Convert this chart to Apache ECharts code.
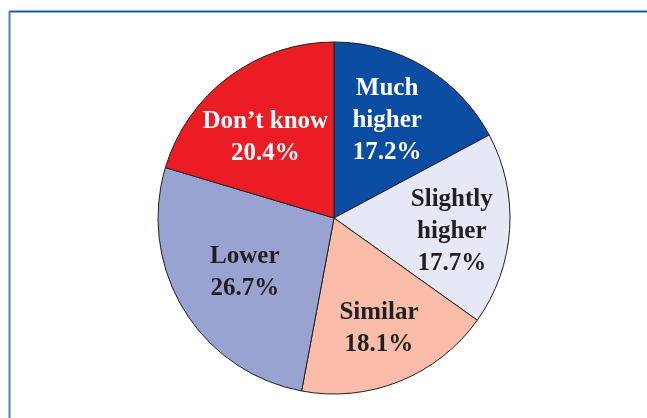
<!DOCTYPE html>
<html>
<head>
<meta charset="utf-8">
<script src="https://cdn.jsdelivr.net/npm/echarts@6/dist/echarts.min.js"></script>
<style>
html,body{margin:0;padding:0;background:#fff;}
#chart{width:647px;height:418px;}
</style>
</head>
<body>
<div id="chart"></div>
<script>
const categories = ["Much\nhigher", "Slightly\nhigher", "Similar", "Lower", "Don\u2019t know"];
const values = [17.2, 17.7, 18.1, 26.7, 20.4];

// styling (not data)
const colors = ["#0b4da2", "#e6e8f5", "#f8bca8", "#98a3d1", "#ec1c24"];
const labelColors = ["#ffffff", "#231f20", "#231f20", "#231f20", "#ffffff"];
const labelNudge = [[-6, 1], [3, 6], [2, 4], [9, -5], [0, 12]];

const sliceData = categories.map((c, i) => ({
  name: c, value: values[i],
  itemStyle: { color: colors[i] }
}));
const labelData = categories.map((c, i) => ({
  name: c, value: values[i],
  label: { color: labelColors[i], offset: labelNudge[i] }
}));

const chart = echarts.init(document.getElementById('chart'), null, { renderer: 'canvas' });
chart.setOption({
  animation: false,
  backgroundColor: '#ffffff',
  graphic: [
    { type: 'line', shape: { x1: 9, y1: 11.5, x2: 647, y2: 11.5 }, style: { stroke: '#1f55a6', lineWidth: 2 }, silent: true },
    { type: 'line', shape: { x1: 9.5, y1: 11, x2: 9.5, y2: 418 }, style: { stroke: '#4a80c6', lineWidth: 2 }, silent: true }
  ],
  series: [
    {
      type: 'pie',
      center: [334, 218],
      radius: [0, 176],
      startAngle: 90,
      clockwise: true,
      silent: true,
      label: { show: false },
      labelLine: { show: false },
      itemStyle: { borderColor: '#231f20', borderWidth: 1 },
      emphasis: { disabled: true },
      data: sliceData
    },
    {
      type: 'pie',
      center: [334, 218],
      radius: [48, 176],
      startAngle: 90,
      clockwise: true,
      silent: true,
      itemStyle: { color: 'rgba(0,0,0,0)', borderWidth: 0 },
      emphasis: { disabled: true },
      labelLine: { show: false },
      label: {
        show: true,
        position: 'inside',
        fontFamily: 'Liberation Serif',
        fontWeight: 'bold',
        fontSize: 25,
        lineHeight: 32,
        align: 'center',
        padding: [8, 0, 0, 0],
        formatter: p => p.name + '\n' + p.value.toFixed(1) + '%'
      },
      data: labelData
    }
  ]
});
</script>
</body>
</html>
